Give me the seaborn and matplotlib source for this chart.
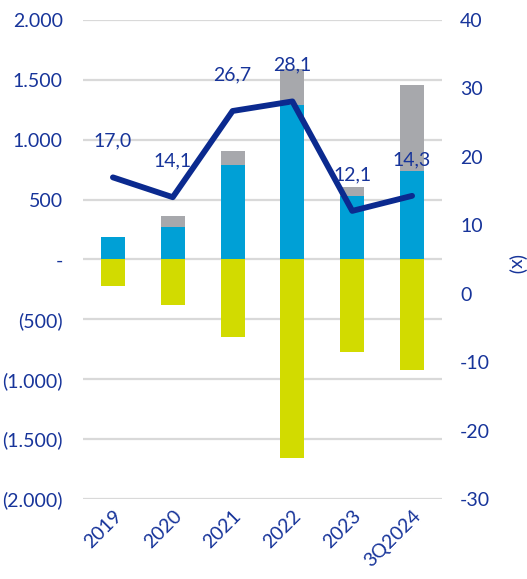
import matplotlib
matplotlib.use("Agg")
import matplotlib.pyplot as plt
import seaborn as sns
import numpy as np
import pandas as pd

categories = ["2019", "2020", "2021", "2022", "2023", "3Q2024"]
blue_vals = [185, 273, 790, 1290, 532, 737]
gray_vals = [0, 90, 120, 298, 70, 717]
yellow_vals = [-218, -379, -646, -1657, -771, -921]
line_vals = [17.0, 14.1, 26.7, 28.1, 12.1, 14.3]
line_labels = ["17,0", "14,1", "26,7", "28,1", "12,1", "14,3"]
left_ticks = [-2000, -1500, -1000, -500, 0, 500, 1000, 1500, 2000]
left_ticklabels = ["(2.000)", "(1.500)", "(1.000)", "(500)", "-", "500", "1.000", "1.500", "2.000"]
right_ticks = [-30, -20, -10, 0, 10, 20, 30, 40]

NAVY = "#0b2a8f"
TXT = "#17349a"
BLUE = "#00a0d6"
GRAY = "#a7a8ac"
YEL = "#d2db00"

sns.set_theme(style="white")
plt.rcParams["font.family"] = ["Lato", "DejaVu Sans"]
FS = 14

df = pd.DataFrame({"cat": categories,
                   "total": np.array(blue_vals) + np.array(gray_vals),
                   "blue": blue_vals, "yellow": yellow_vals,
                   "line": line_vals})

fig = plt.figure(figsize=(5.27, 5.79), dpi=100)
ax = fig.add_axes([0.1575, 0.1382, 0.6812, 0.8273])

ax.set_axisbelow(True)
for t in left_ticks:
    ax.axhline(t, color="#d9d9d9", lw=1.6, zorder=0)

sns.barplot(data=df, x="cat", y="total", color=GRAY, width=0.4, ax=ax,
            saturation=1, edgecolor="none", zorder=2)
sns.barplot(data=df, x="cat", y="blue", color=BLUE, width=0.4, ax=ax,
            saturation=1, edgecolor="none", zorder=3)
sns.barplot(data=df, x="cat", y="yellow", color=YEL, width=0.4, ax=ax,
            saturation=1, edgecolor="none", zorder=3)

ax.set_ylim(-2000, 2000)
ax.set_xlim(-0.5, 5.5)
ax.set_yticks(left_ticks)
ax.set_yticklabels(left_ticklabels)
ax.set_xlabel("")
ax.set_ylabel("")
for s in ax.spines.values():
    s.set_visible(False)
ax.tick_params(axis="y", length=0, pad=14.5, labelsize=FS, labelcolor=TXT)
ax.tick_params(axis="x", length=0, pad=6, labelsize=FS, labelcolor=TXT)
for lab in ax.get_xticklabels():
    lab.set_rotation(45)
    lab.set_ha("right")
    lab.set_rotation_mode("anchor")

ax2 = ax.twinx()
xpos = np.arange(len(categories))
sns.lineplot(x=xpos, y=df["line"].values, ax=ax2, color=NAVY, lw=4.2,
             solid_capstyle="round", zorder=5)
ax2.set_ylim(-30, 40)
ax2.set_yticks(right_ticks)
ax2.set_yticklabels([str(t) for t in right_ticks])
for s in ax2.spines.values():
    s.set_visible(False)
ax2.tick_params(axis="y", length=0, pad=13, labelsize=FS, labelcolor=TXT)
ax2.set_ylabel("(x)", rotation=270, color=TXT, fontsize=FS, va="center", ha="center")
ax2.yaxis.set_label_coords(1.21, 0.49)
ax2.set_zorder(ax.get_zorder() + 1)
ax2.patch.set_visible(False)

for x, v, lab in zip(xpos, line_vals, line_labels):
    ax2.annotate(lab, (x, v), xytext=(0, 20), textcoords="offset points",
                 ha="center", va="bottom", color=TXT, fontsize=FS, zorder=6)

fig.savefig("out.png", dpi=100)
